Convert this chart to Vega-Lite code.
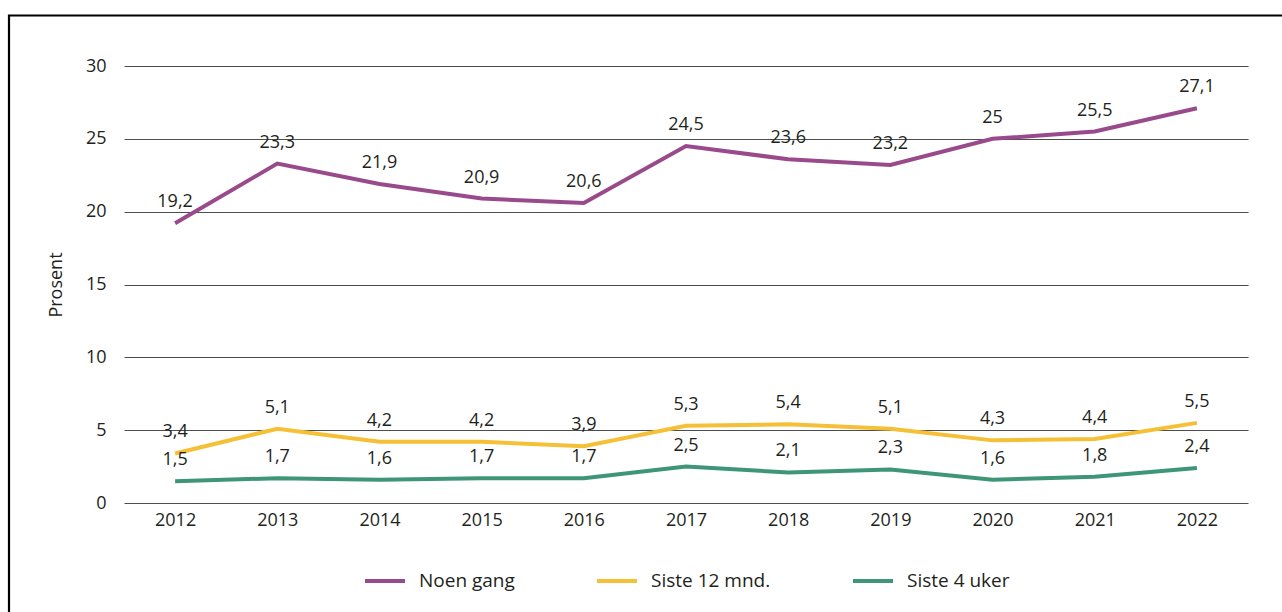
{
  "$schema": "https://vega.github.io/schema/vega-lite/v6.json",
  "autosize": "none",
  "width": 1124,
  "height": 437,
  "padding": {"left": 124, "top": 66, "right": 34, "bottom": 109},
  "background": "white",
  "config": {
    "font": "Open Sans",
    "locale": {
      "number": {"decimal": ",", "thousands": " ", "grouping": [3], "currency": ["", " kr"]}
    },
    "view": {"stroke": null},
    "axis": {"labelFont": "Open Sans", "titleFont": "Open Sans", "labelColor": "#231f20", "titleColor": "#231f20"}
  },
  "data": {
    "values": [
      {"year": "2012", "series": "Noen gang", "value": 19.2},
      {"year": "2013", "series": "Noen gang", "value": 23.3},
      {"year": "2014", "series": "Noen gang", "value": 21.9},
      {"year": "2015", "series": "Noen gang", "value": 20.9},
      {"year": "2016", "series": "Noen gang", "value": 20.6},
      {"year": "2017", "series": "Noen gang", "value": 24.5},
      {"year": "2018", "series": "Noen gang", "value": 23.6},
      {"year": "2019", "series": "Noen gang", "value": 23.2},
      {"year": "2020", "series": "Noen gang", "value": 25},
      {"year": "2021", "series": "Noen gang", "value": 25.5},
      {"year": "2022", "series": "Noen gang", "value": 27.1},
      {"year": "2012", "series": "Siste 12 mnd.", "value": 3.4},
      {"year": "2013", "series": "Siste 12 mnd.", "value": 5.1},
      {"year": "2014", "series": "Siste 12 mnd.", "value": 4.2},
      {"year": "2015", "series": "Siste 12 mnd.", "value": 4.2},
      {"year": "2016", "series": "Siste 12 mnd.", "value": 3.9},
      {"year": "2017", "series": "Siste 12 mnd.", "value": 5.3},
      {"year": "2018", "series": "Siste 12 mnd.", "value": 5.4},
      {"year": "2019", "series": "Siste 12 mnd.", "value": 5.1},
      {"year": "2020", "series": "Siste 12 mnd.", "value": 4.3},
      {"year": "2021", "series": "Siste 12 mnd.", "value": 4.4},
      {"year": "2022", "series": "Siste 12 mnd.", "value": 5.5},
      {"year": "2012", "series": "Siste 4 uker", "value": 1.5},
      {"year": "2013", "series": "Siste 4 uker", "value": 1.7},
      {"year": "2014", "series": "Siste 4 uker", "value": 1.6},
      {"year": "2015", "series": "Siste 4 uker", "value": 1.7},
      {"year": "2016", "series": "Siste 4 uker", "value": 1.7},
      {"year": "2017", "series": "Siste 4 uker", "value": 2.5},
      {"year": "2018", "series": "Siste 4 uker", "value": 2.1},
      {"year": "2019", "series": "Siste 4 uker", "value": 2.3},
      {"year": "2020", "series": "Siste 4 uker", "value": 1.6},
      {"year": "2021", "series": "Siste 4 uker", "value": 1.8},
      {"year": "2022", "series": "Siste 4 uker", "value": 2.4}
    ]
  },
  "encoding": {
    "x": {
      "field": "year", "type": "ordinal",
      "scale": {"type": "point", "padding": 0.5},
      "axis": {"title": null, "labelAngle": 0, "domain": false, "ticks": false, "labelFontSize": 18, "labelPadding": 8, "grid": false}
    },
    "y": {
      "field": "value", "type": "quantitative",
      "scale": {"domain": [0, 30], "nice": false},
      "axis": {
        "title": "Prosent", "titleFontSize": 18, "titleFontWeight": "normal", "titlePadding": 20,
        "values": [0, 5, 10, 15, 20, 25, 30], "domain": false, "ticks": false,
        "labelFontSize": 18, "labelPadding": 18, "grid": true, "gridColor": "#4d4d4d", "gridWidth": 1
      }
    }
  },
  "layer": [
    {
      "data": {"values": [{"frame": "ramme"}]},
      "mark": {"type": "rect", "fill": null, "stroke": "#000000", "strokeWidth": 2.2, "clip": false},
      "encoding": {
        "x": {"value": -115},
        "x2": {"value": 1170},
        "y": {"value": -50.5},
        "y2": {"value": 560}
      }
    },
    {
      "mark": {"type": "line", "strokeWidth": 4, "strokeCap": "butt"},
      "encoding": {
        "color": {
          "field": "series", "type": "nominal",
          "scale": {"domain": ["Noen gang", "Siste 12 mnd.", "Siste 4 uker"], "range": ["#994a8b", "#f5c035", "#3e9677"]},
          "legend": {
            "title": null, "orient": "none", "direction": "horizontal",
            "legendX": 239, "legendY": 493,
            "symbolType": "stroke", "symbolStrokeWidth": 4, "symbolSize": 1600,
            "labelFontSize": 19, "labelColor": "#231f20", "labelFont": "Open Sans",
            "columnPadding": 74, "labelOffset": 12
          }
        }
      }
    },
    {
      "mark": {"type": "text", "dy": -21, "fontSize": 18, "color": "#231f20", "baseline": "middle"},
      "encoding": {
        "text": {"field": "value", "type": "quantitative", "format": ".1~f"}
      }
    }
  ]
}
